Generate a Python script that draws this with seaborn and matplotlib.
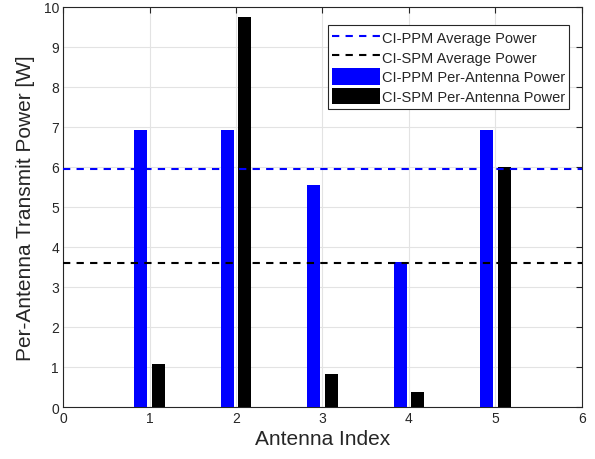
import matplotlib
matplotlib.use("Agg")
import matplotlib.pyplot as plt
import seaborn as sns
import pandas as pd
from matplotlib.patches import Patch
from matplotlib.lines import Line2D

antenna = [1, 2, 3, 4, 5]
ppm_power = [6.92, 6.92, 5.55, 3.63, 6.92]
spm_power = [1.08, 9.75, 0.83, 0.37, 6.00]
ppm_avg = 5.96
spm_avg = 3.60
series_names = ["CI-PPM Per-Antenna Power", "CI-SPM Per-Antenna Power"]
avg_names = ["CI-PPM Average Power", "CI-SPM Average Power"]

df = pd.DataFrame({
    "Antenna": antenna * 2,
    "Power": ppm_power + spm_power,
    "Scheme": [series_names[0]] * len(antenna) + [series_names[1]] * len(antenna),
})

sns.set_style("white")
plt.rcParams['font.family'] = ['Liberation Sans', 'DejaVu Sans']

fig = plt.figure(figsize=(5.95, 4.6), dpi=100)
ax = fig.add_axes([0.106, 0.113, 0.872, 0.870])

sns.barplot(data=df, x="Antenna", y="Power", hue="Scheme", native_scale=True,
            palette=["#0000ff", "#000000"], saturation=1, width=0.4, gap=0.25,
            ax=ax, legend=False, edgecolor="none", linewidth=0, zorder=3)

ax.axhline(ppm_avg, color="#0000ff", ls=(0, (3.5, 3)), lw=1.5, zorder=4)
ax.axhline(spm_avg, color="#000000", ls=(0, (3.5, 3)), lw=1.5, zorder=4)

ax.set_xlim(0, 6)
ax.set_ylim(0, 10)
ax.set_xticks(range(0, 7))
ax.set_yticks(range(0, 11))
ax.grid(True, color="#e3e3e3", lw=0.8, zorder=0)
ax.set_axisbelow(True)
ax.tick_params(direction="in", top=True, right=True, length=4, width=0.8,
               colors="#262626", labelsize=10, pad=3)
for s in ax.spines.values():
    s.set_color("#262626")
    s.set_linewidth(0.8)
ax.set_xlabel("Antenna Index", fontsize=15, color="#262626", labelpad=3)
ax.set_ylabel("Per-Antenna Transmit Power [W]", fontsize=15, color="#262626", labelpad=6)

handles = [
    Line2D([0], [0], color="#0000ff", ls=(0, (3.5, 3)), lw=1.5),
    Line2D([0], [0], color="#000000", ls=(0, (3.5, 3)), lw=1.5),
    Patch(facecolor="#0000ff", edgecolor="none"),
    Patch(facecolor="#000000", edgecolor="none"),
]
leg = ax.legend(handles, avg_names + series_names, loc="upper right",
                bbox_to_anchor=(0.976, 0.955), fontsize=10.5, frameon=True,
                fancybox=False, edgecolor="#262626", framealpha=1,
                handlelength=3.3, handleheight=1.35, handletextpad=0.1,
                borderpad=0.3, labelspacing=0.22, borderaxespad=0)
leg.get_frame().set_linewidth(0.8)

fig.savefig("out.png", dpi=100)
